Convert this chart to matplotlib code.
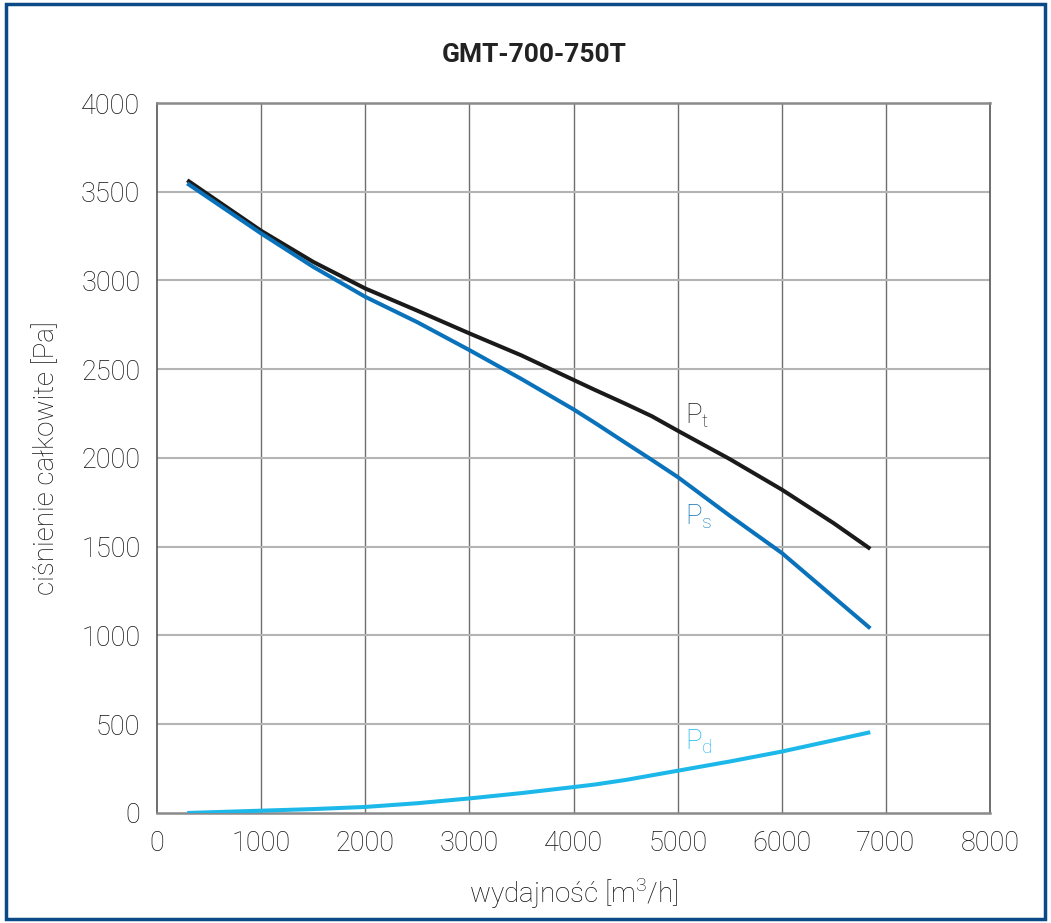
import numpy as np
import matplotlib
matplotlib.use('Agg')
import matplotlib.pyplot as plt
from matplotlib.patches import Rectangle

plt.rcParams['font.family'] = ['Roboto', 'DejaVu Sans']

# flow [m3/h] and pressures [Pa]
flow = [290, 1000, 1500, 2000, 2500, 3000, 3500, 4000, 4200, 4500, 4750, 5000, 5500, 6000, 6500, 6850]
p_total = [3565, 3280, 3105, 2955, 2830, 2702, 2578, 2440, 2385, 2305, 2236, 2154, 1994, 1822, 1632, 1488]
p_static = [3547, 3265, 3077, 2908, 2765, 2608, 2445, 2274, 2200, 2085, 1990, 1893, 1675, 1465, 1215, 1040]
p_dyn = [0, 13, 22, 34, 55, 82, 112, 146, 160, 186, 212, 238, 290, 346, 410, 455]

x_ticks = [0, 1000, 2000, 3000, 4000, 5000, 6000, 7000, 8000]
y_ticks = [0, 500, 1000, 1500, 2000, 2500, 3000, 3500, 4000]

fig = plt.figure(figsize=(10.51, 9.23), dpi=100)
ax = fig.add_axes([0.1494, 0.1192, 0.7926, 0.7692])

# frame round the whole picture
fig.patches.append(Rectangle((0.006, 0.004), 0.988, 0.992, transform=fig.transFigure,
                             fill=False, edgecolor='#0b4a86', linewidth=2.5))

for v in x_ticks[1:-1]:
    ax.axvline(v, color='#6e6e6e', lw=1.0, zorder=1)
for v in y_ticks[1:-1]:
    ax.axhline(v, color='#b4b4b4', lw=1.5, zorder=1)

style = dict(lw=2.9, zorder=3, solid_joinstyle='round', solid_capstyle='butt')
ax.plot(flow, p_total, color='#1a1a1a', **style)
ax.plot(flow, p_static, color='#0a72ba', **style)
ax.plot(flow, p_dyn, color='#1cb8ea', **style)

ax.text(5070, 2240, 'P$_\\mathregular{t}$', fontsize=20, color='#1a1a1a', fontweight='light', va='center')
ax.text(5070, 1670, 'P$_\\mathregular{s}$', fontsize=20, color='#0a72ba', fontweight='light', va='center')
ax.text(5070, 400, 'P$_\\mathregular{d}$', fontsize=20, color='#1cb8ea', fontweight='light', va='center')

ax.set_xlim(0, 8000)
ax.set_ylim(0, 4000)
ax.set_xticks(x_ticks)
ax.set_yticks(y_ticks)
ax.tick_params(length=0, labelsize=19.5, pad=12, labelcolor='#111111')
for lab in ax.get_xticklabels() + ax.get_yticklabels():
    lab.set_fontweight('light')

for side in ['left', 'right']:
    ax.spines[side].set_color('#555555')
    ax.spines[side].set_linewidth(1.2)
for side in ['top', 'bottom']:
    ax.spines[side].set_color('#8a8a8a')
    ax.spines[side].set_linewidth(1.8)

ax.set_xlabel('wydajność [m$^\\mathregular{3}$/h]', fontsize=20, fontweight='light', labelpad=14, color='#111111')
ax.set_ylabel('ciśnienie całkowite [Pa]', fontsize=20, fontweight='light', labelpad=15, color='#111111')
fig.text(0.508, 0.940, 'GMT-700-750T', ha='center', va='center', fontsize=19, fontweight='bold', color='#222222')

fig.savefig('out.png', dpi=100)
